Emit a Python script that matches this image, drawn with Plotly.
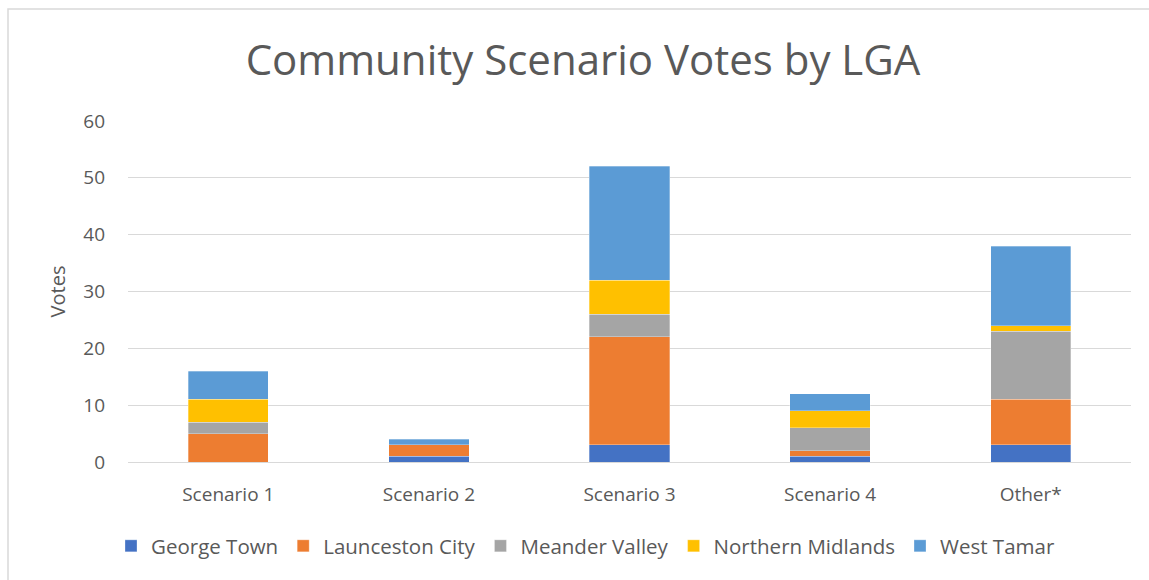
import plotly.graph_objects as go

categories = ["Scenario 1", "Scenario 2", "Scenario 3", "Scenario 4", "Other*"]
george_town = [0, 1, 3, 1, 3]
launceston_city = [5, 2, 19, 1, 8]
meander_valley = [2, 0, 4, 4, 12]
northern_midlands = [4, 0, 6, 3, 1]
west_tamar = [5, 1, 20, 3, 14]

series = [
    ("George Town", george_town, "#4472C4"),
    ("Launceston City", launceston_city, "#ED7D31"),
    ("Meander Valley", meander_valley, "#A5A5A5"),
    ("Northern Midlands", northern_midlands, "#FFC000"),
    ("West Tamar", west_tamar, "#5B9BD5"),
]

fig = go.Figure()
for name, vals, col in series:
    fig.add_trace(go.Bar(x=categories, y=vals, name=name,
                         marker=dict(color=col, line=dict(color="rgba(255,255,255,0.6)", width=0.5))))

L, R, T, B = 128, 18, 121, 118
W, H = 1149, 580
pw, ph = W - L - R, H - T - B

def px(x):
    return (x - L) / pw

def py(y):
    return (H - y - B) / ph

fig.update_layout(
    width=W, height=H,
    barmode="stack", bargap=0.6,
    margin=dict(l=L, r=R, t=T, b=B),
    paper_bgcolor="white", plot_bgcolor="white",
    font=dict(family="Open Sans, Liberation Sans, sans-serif", color="#595959", size=20),
    title=dict(text="Community Scenario Votes by LGA", x=583 / W, xanchor="center",
               y=1 - 60 / H, yanchor="middle",
               font=dict(size=42, color="#595959")),
    xaxis=dict(showgrid=False, showline=True, linecolor="#D9D9D9", linewidth=1,
               ticks="", ticklabelstandoff=15, tickfont=dict(size=19)),
    yaxis=dict(range=[0, 60], dtick=10, showgrid=True, gridcolor="#D9D9D9", gridwidth=1,
               zeroline=False, showline=False, ticks="", ticklabelstandoff=22,
               tickfont=dict(size=19),
               title=dict(text="Votes", font=dict(size=20), standoff=12)),
    legend=dict(orientation="h", x=0.5 - 44 / pw, xanchor="center", y=py(546), yanchor="middle",
                font=dict(size=20.5), traceorder="normal", itemwidth=30),
    showlegend=True,
)

fig.add_shape(type="rect", xref="paper", yref="paper",
              x0=px(8), x1=px(1160), y0=py(600), y1=py(9),
              line=dict(color="#D9D9D9", width=1.5), fillcolor="rgba(0,0,0,0)", layer="below")

fig.write_html("out.html", post_script="document.body.style.margin='0';",
               config={"displayModeBar": False})
